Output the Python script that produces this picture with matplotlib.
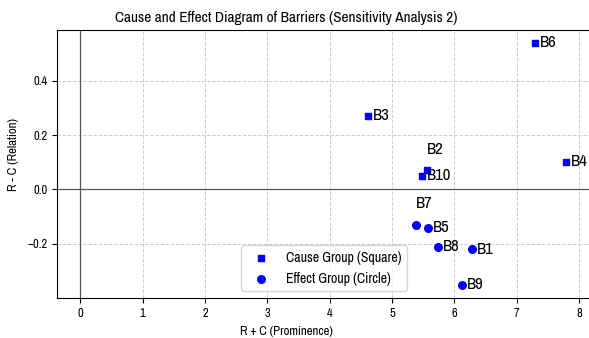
import matplotlib
matplotlib.use('Agg')
import matplotlib.pyplot as plt
from matplotlib import font_manager

# prefer a narrow face if present (reference text looks squeezed)
fonts = font_manager.fontManager.ttflist
narrow = [f.name for f in fonts if 'Narrow' in f.name or 'Condensed' in f.name]
cond = [f.name for f in fonts if f.stretch in ('condensed', 'semi-condensed', 600, 700)]
if narrow:
    plt.rcParams['font.family'] = [narrow[0], 'DejaVu Sans']
elif cond:
    plt.rcParams['font.family'] = [cond[0], 'DejaVu Sans']
    plt.rcParams['font.stretch'] = 'condensed'

# data
cause_labels = ['B2', 'B3', 'B4', 'B6', 'B10']
cause_x = [5.56, 4.62, 7.79, 7.29, 5.48]
cause_y = [0.070, 0.272, 0.102, 0.540, 0.051]

effect_labels = ['B1', 'B5', 'B7', 'B8', 'B9']
effect_x = [6.28, 5.58, 5.38, 5.74, 6.12]
effect_y = [-0.220, -0.140, -0.130, -0.210, -0.350]

fig = plt.figure(figsize=(5.89, 3.38), dpi=100)
ax = fig.add_axes([0.097, 0.118, 0.915, 0.793])

ax.grid(True, linestyle='--', color='#cccccc', linewidth=0.7)
ax.set_axisbelow(True)
ax.axhline(0, color='#555555', linewidth=0.9)
ax.axvline(0, color='#555555', linewidth=0.9)

ax.scatter(cause_x, cause_y, marker='s', color='blue', s=24, label='Cause Group (Square)', zorder=3)
ax.scatter(effect_x, effect_y, marker='o', color='blue', s=30, label='Effect Group (Circle)', zorder=3)

# point labels: most to the right, B2 and B7 above
for lab, x, y in zip(cause_labels + effect_labels, cause_x + effect_x, cause_y + effect_y):
    if lab in ('B2', 'B7'):
        ax.annotate(lab, (x, y), xytext=(0, 10), textcoords='offset points', fontsize=12, ha='left', va='bottom')
    else:
        ax.annotate(lab, (x, y), xytext=(3.5, 0), textcoords='offset points', fontsize=12, ha='left', va='center')

ax.set_xlim(-0.37, 8.27)
ax.set_ylim(-0.40, 0.587)
ax.set_xticks(range(0, 9))
ax.set_yticks([-0.2, 0.0, 0.2, 0.4])
ax.tick_params(labelsize=9)

ax.set_title('Cause and Effect Diagram of Barriers (Sensitivity Analysis 2)', fontsize=11, x=0.425)
ax.set_xlabel('R + C (Prominence)', fontsize=9.2)
ax.xaxis.set_label_coords(0.425, -0.105)
ax.set_ylabel('R - C (Relation)', fontsize=9.2)
ax.yaxis.set_label_coords(-0.071, 0.534)
ax.legend(loc='lower center', bbox_to_anchor=(0.495, 0.0), fontsize=10, handletextpad=0.8)

fig.savefig('out.png', dpi=100)
